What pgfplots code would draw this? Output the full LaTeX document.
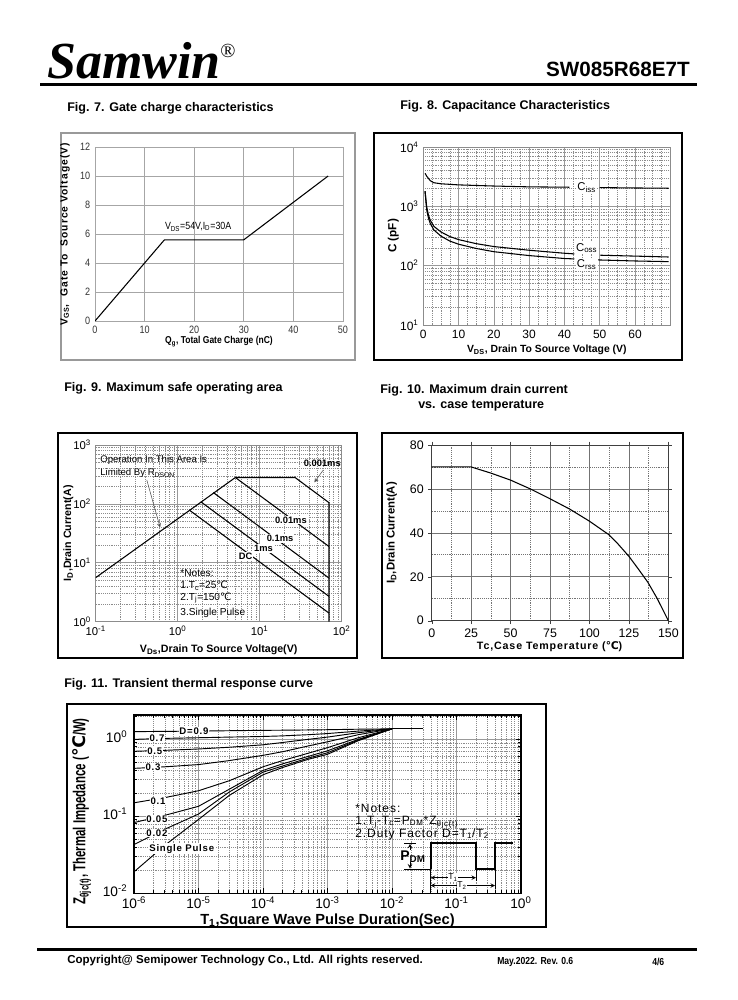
\documentclass[border=0pt]{standalone}
\usepackage{fontspec}
\setmainfont{Liberation Sans}
\newfontfamily\logo{Liberation Serif}
\newfontfamily\narrow[FakeStretch=0.85]{Liberation Sans}
\newfontfamily\condensed[FakeStretch=0.66]{Liberation Sans}
\newfontfamily\spaced[LetterSpace=8]{Liberation Sans}
\newfontfamily\wide[LetterSpace=10]{Liberation Sans}
\newfontfamily\dv{DejaVu Sans}
\usepackage{pgfplots}
\pgfplotsset{compat=1.18}
\newcommand\fs[1]{\fontsize{#1}{#1}\selectfont}
\newcommand\degC{{\dv ℃}}
\newcommand\sups[1]{\textsuperscript{#1}}
\newcommand\subs[1]{\textsubscript{#1}}

\pgfplotsset{
  sheet/.style={scale only axis, anchor=south west,
    /pgf/number format/assume math mode=true,
    xlabel style={anchor=center}, ylabel style={anchor=center}},
  decades/.style={
    minor grid style={black!45, densely dotted, line width=0.4pt},
    major grid style={black!40, line width=0.5pt}},
}

\begin{document}
\begin{tikzpicture}
\path[use as bounding box, fill=white] (0,0) rectangle (553.5pt,-750pt);

% ---------------- page furniture
\begin{scope}[x=0.75pt, y=-0.75pt]
\node[anchor=base west, inner sep=0, font=\logo\bfseries\itshape\fs{39pt}] at (47,78) {Samwin};
\node[anchor=base west, inner sep=0, font=\logo\fs{15pt}] at (220,57) {®};
\node[anchor=base east, inner sep=0, font=\bfseries\fs{15.5pt}] at (690,76) {SW085R68E7T};
\draw[line width=2.25pt] (40,84.5) -- (697,84.5);

\node[anchor=west, inner sep=0, font=\bfseries\fs{9.4pt}] at (67,108) {Fig. 7. Gate charge characteristics};
\node[anchor=west, inner sep=0, font=\bfseries\fs{9.4pt}] at (400,106) {Fig. 8. Capacitance Characteristics};
\node[anchor=west, inner sep=0, font=\bfseries\fs{9.4pt}] at (64,388) {Fig. 9. Maximum safe operating area};
\node[anchor=west, inner sep=0, font=\bfseries\fs{9.4pt}] at (380,390) {Fig. 10. Maximum drain current};
\node[anchor=west, inner sep=0, font=\bfseries\fs{9.4pt}] at (418,406) {vs. case temperature};
\node[anchor=west, inner sep=0, font=\bfseries\fs{9.4pt}] at (64,684) {Fig. 11. Transient thermal response curve};

\draw[black!40, line width=1.2pt] (61,133) rectangle (355,360);
\draw[line width=1pt] (374,133) rectangle (682,360);
\draw[line width=1pt] (58,433) rectangle (357,658);
\draw[line width=1pt] (382,433) rectangle (683,658);
\draw[line width=1.2pt] (67,704) rectangle (546,927);

\draw[line width=2.25pt] (37,949.5) -- (697,949.5);
\node[anchor=west, inner sep=0, font=\bfseries\fs{8.65pt}] at (67,961) {Copyright@ Semipower Technology Co., Ltd. All rights reserved.};
\node[anchor=west, inner sep=0, font=\narrow\bfseries\fs{7.6pt}] at (497,962) {May.2022. Rev. 0.6};
\node[anchor=west, inner sep=0, font=\narrow\bfseries\fs{7.6pt}] at (652,962) {4/6};
\end{scope}

% ---------------- Fig. 7
\begin{axis}[sheet, at={(95*0.75pt,-321*0.75pt)}, width=186pt, height=130.5pt,
  xmin=0, xmax=50, ymin=0, ymax=12,
  xtick={0,10,...,50}, ytick={0,2,...,12},
  grid=major, major grid style={black!35, line width=0.5pt},
  axis line style={black!35}, major tick length=0pt,
  tick label style={font=\narrow\fs{8pt}, text=black!80},
  xlabel={\textbf{Q\subs{g}, Total Gate Charge (nC)}},
  ylabel={\textbf{V\subs{GS},\ \ Gate To\ \ Source Voltage(V)}},
  xlabel style={font=\narrow\fs{7.5pt}, at={(axis description cs:0.5,-0.119)}},
  ylabel style={font=\wide\fs{7.7pt}, at={(axis description cs:-0.121,0.5)}},
]
\addplot[black, line width=0.8pt] coordinates {(0,0) (14,5.6) (30,5.6) (47,10)};
\node[font=\narrow\fs{7.8pt}] at (axis cs:20.8,6.5) {V\subs{DS}=54V,I\subs{D}=30A};
\end{axis}

% ---------------- Fig. 8
\begin{axis}[sheet, decades, at={(423.3*0.75pt,-325*0.75pt)}, width=185.25pt, height=133.5pt,
  ymode=log, xmin=0, xmax=70, ymin=10, ymax=10000,
  xtick={0,10,...,60}, ytick={10,100,1000,10000},
  yticklabels={10\sups{1},10\sups{2},10\sups{3},10\sups{4}},
  minor xtick={2.5,5,7.5,12.5,15,17.5,22.5,25,27.5,32.5,35,37.5,42.5,45,47.5,52.5,55,57.5,62.5,65,67.5},
  minor ytick={20,30,40,50,60,70,80,90,200,300,400,500,600,700,800,900,2000,3000,4000,5000,6000,7000,8000,9000},
  grid=both, axis line style={black!45},
  major tick length=0pt, minor tick length=0pt,
  tick label style={font=\fs{9pt}},
  xlabel={\textbf{V\subs{DS}, Drain To Source Voltage (V)}},
  ylabel={\textbf{C (pF)}},
  xlabel style={font=\fs{7.8pt}, at={(axis description cs:0.5,-0.14)}},
  ylabel style={font=\fs{8.8pt}, at={(axis description cs:-0.121,0.5)}},
]
\addplot[black, line width=0.8pt] coordinates {(0.5,3600) (1,3200) (2,2700) (3,2500) (5,2400) (10,2300) (20,2200) (30,2130) (41.4,2100)};
\addplot[black, line width=0.8pt] coordinates {(50,2070) (60,2040) (69.5,2020)};
\addplot[black, line width=0.8pt] coordinates {(0.5,1800) (0.8,1200) (1,950) (1.5,700) (2,580) (3,460) (5,370) (7.5,310) (10,275) (15,235) (20,210) (30,182) (40,162) (42.8,158)};
\addplot[black, line width=0.8pt] coordinates {(50.2,150) (60,145) (69.5,140)};
\addplot[black, line width=0.8pt] coordinates {(0.5,1800) (0.8,1100) (1,850) (1.5,620) (2,510) (3,400) (5,315) (7.5,260) (10,230) (15,195) (20,172) (30,148) (40,132) (42.8,130)};
\addplot[black, line width=0.8pt] coordinates {(49.5,125) (60,120) (69.5,117)};
\node[fill=white, inner sep=1pt, font=\fs{8.5pt}] at (axis cs:46.3,2060) {C\subs{iss}};
\node[fill=white, inner sep=1pt, font=\fs{8.5pt}] at (axis cs:46.3,198) {C\subs{oss}};
\node[fill=white, inner sep=1pt, font=\fs{8.5pt}] at (axis cs:46.3,104) {C\subs{rss}};
\end{axis}

% ---------------- Fig. 9
\begin{axis}[sheet, decades, at={(95.7*0.75pt,-621.7*0.75pt)}, width=184.5pt, height=132.5pt,
  xmode=log, ymode=log, xmin=0.1, xmax=100, ymin=1, ymax=1000,
  xtick={0.1,1,10,100}, xticklabels={10\sups{-1},10\sups{0},10\sups{1},10\sups{2}},
  ytick={1,10,100,1000}, yticklabels={10\sups{0},10\sups{1},10\sups{2},10\sups{3}},
  minor xtick={0.2,0.3,0.4,0.5,0.6,0.7,0.8,0.9,2,3,4,5,6,7,8,9,20,30,40,50,60,70,80,90},
  minor ytick={2,3,4,5,6,7,8,9,20,30,40,50,60,70,80,90,200,300,400,500,600,700,800,900},
  grid=both, axis line style={black!45},
  major tick length=0pt, minor tick length=0pt,
  tick label style={font=\fs{8.5pt}},
  xlabel={\textbf{V\subs{Ds},Drain To Source Voltage(V)}},
  ylabel={\textbf{I\subs{D},Drain Current(A)}},
  label style={font=\fs{8pt}},
  xlabel style={at={(axis description cs:0.5,-0.16)}},
  ylabel style={at={(axis description cs:-0.111,0.5)}},
]
\addplot[black, line width=0.8pt] coordinates {(0.1,5.6) (5.05,281)};
\addplot[black, line width=0.8pt] coordinates {(5.05,281) (27,281) (70,105) (70,1)};
\addplot[black, line width=0.8pt] coordinates {(5.05,281) (70,18.9)};
\addplot[black, line width=0.8pt] coordinates {(2.72,156) (70,5.5)};
\addplot[black, line width=0.8pt] coordinates {(1.91,109) (70,2.69)};
\addplot[black, line width=0.8pt] coordinates {(1.38,79) (70,1.40)};
\node[anchor=west, inner sep=0, font=\fs{7.2pt}] at (axis cs:0.113,556) {Operation In This Area Is};
\node[anchor=west, inner sep=0, font=\fs{7.2pt}] at (axis cs:0.113,331) {Limited By R\subs{DSON}};
\draw[black!70, -stealth] (axis cs:0.42,255) -- (axis cs:0.61,40);
\node[font=\bfseries\fs{7pt}] at (axis cs:58,489) {0.001ms};
\draw[black!70, -stealth] (axis cs:59.7,377) -- (axis cs:46.4,233);
\node[fill=white, inner sep=0.8pt, font=\bfseries\fs{7pt}] at (axis cs:24,53.6) {0.01ms};
\node[fill=white, inner sep=0.8pt, font=\bfseries\fs{7pt}] at (axis cs:17.7,26) {0.1ms};
\node[fill=white, inner sep=0.8pt, font=\bfseries\fs{7pt}] at (axis cs:11.1,17.7) {1ms};
\node[fill=white, inner sep=0.8pt, font=\bfseries\fs{7pt}] at (axis cs:6.74,12.8) {DC};
\node[anchor=west, inner sep=0, font=\fs{7.6pt}] at (axis cs:1.07,6.6) {*Notes:};
\node[anchor=west, inner sep=0, font=\fs{7.6pt}] at (axis cs:1.07,4.08) {1.T\subs{c}=25\degC};
\node[anchor=west, inner sep=0, font=\fs{7.6pt}] at (axis cs:1.07,2.55) {2.T\subs{j}=150\degC};
\node[anchor=west, inner sep=0, font=\fs{7.6pt}] at (axis cs:1.07,1.42) {3.Single Pulse};
\end{axis}

% ---------------- Fig. 10
\begin{axis}[sheet, at={(431.7*0.75pt,-620.7*0.75pt)}, width=177.5pt, height=131.8pt,
  xmin=0, xmax=150, ymin=0, ymax=80,
  xtick={0,25,...,150}, ytick={0,20,...,80},
  minor x tick num=1, minor y tick num=1,
  grid=both, major grid style={black!55, line width=0.5pt},
  minor grid style={black!55, densely dotted, line width=0.5pt},
  axis line style={black!75}, tick align=outside,
  major tick length=2.5pt, minor tick length=0pt, tick style={black!75},
  tick label style={font=\fs{9.3pt}},
  xlabel={\textbf{Tc,Case Temperature (\degC)}},
  ylabel={\textbf{I\subs{D},Drain Current(A)}},
  xlabel style={font=\spaced\fs{8pt}, at={(axis description cs:0.5,-0.148)}},
  ylabel style={font=\fs{8.5pt}, at={(axis description cs:-0.169,0.5)}},
]
\addplot[black, line width=0.8pt] coordinates {(0,70) (25,70) (37.5,67.2) (50,64) (62.5,60) (75,55.5) (87.5,50.8) (100,45.3) (112,39.3) (118,35) (125,29.3) (131,23.5) (137,17.5) (143,10) (150,0)};
\end{axis}

% ---------------- Fig. 11
\begin{axis}[sheet, decades, at={(134*0.75pt,-893.3*0.75pt)}, width=290.25pt, height=133.7pt,
  xmode=log, ymode=log, xmin=1e-6, xmax=1, ymin=0.01, ymax=2.07,
  xtick={1e-6,1e-5,1e-4,1e-3,1e-2,1e-1,1},
  xticklabels={10\sups{-6},10\sups{-5},10\sups{-4},10\sups{-3},10\sups{-2},10\sups{-1},10\sups{0}},
  ytick={0.01,0.1,1}, yticklabels={10\sups{-2},10\sups{-1},10\sups{0}},
  minor xtick={2e-6,3e-6,4e-6,5e-6,6e-6,7e-6,8e-6,9e-6,2e-5,3e-5,4e-5,5e-5,6e-5,7e-5,8e-5,9e-5,2e-4,3e-4,4e-4,5e-4,6e-4,7e-4,8e-4,9e-4,2e-3,3e-3,4e-3,5e-3,6e-3,7e-3,8e-3,9e-3,0.02,0.03,0.04,0.05,0.06,0.07,0.08,0.09,0.2,0.3,0.4,0.5,0.6,0.7,0.8,0.9},
  minor ytick={0.02,0.03,0.04,0.05,0.06,0.07,0.08,0.09,0.2,0.3,0.4,0.5,0.6,0.7,0.8,0.9,2},
  grid=both, axis line style={black, line width=1pt},
  tick align=inside, major tick length=4pt, minor tick length=2.5pt, tick style={black, line width=0.6pt},
  tick label style={font=\fs{10.3pt}},
  xticklabel style={yshift=1pt},
  yticklabel style={yshift=2pt, xshift=-1.5pt},
  xlabel={\textbf{T\subs{1},Square Wave Pulse Duration(Sec)}},
  ylabel={\textbf{Z\subs{θjc(t)}, Thermal Impedance ({\dv ℃}/W)}},
  xlabel style={font=\fs{11pt}, at={(axis description cs:0.5,-0.155)}},
  ylabel style={font=\condensed\fs{13pt}, at={(axis description cs:-0.135,0.46)}},
]
\pgfplotstableread{
t      d9    d7    d5    d3    d1    d05   d02   sp
1e-6   1.26  1.00  0.70  0.42  0.150 0.083 0.043 0.019
3e-6   1.27  1.03  0.72  0.44  0.175 0.103 0.068 0.042
1e-5   1.28  1.05  0.75  0.47  0.215 0.135 0.107 0.091
3e-5   1.295 1.07  0.79  0.53  0.29  0.225 0.207 0.187
1e-4   1.31  1.09  0.85  0.62  0.44  0.395 0.375 0.347
2e-4   1.315 1.11  0.91  0.69  0.53  0.48  0.45  0.43
5e-4   1.325 1.15  1.00  0.82  0.66  0.60  0.57  0.55
1e-3   1.335 1.19  1.07  0.93  0.78  0.71  0.67  0.64
3e-3   1.355 1.28  1.22  1.15  1.05  1.00  0.98  0.96
1e-2   1.37  1.37  1.37  1.37  1.37  1.37  1.37  1.37
}\zth
\foreach \c in {d9,d7,d5,d3,d1,d05,d02,sp}{
  \addplot[black, line width=0.7pt] table[x=t, y=\c] {\zth};
}
\addplot[black, line width=0.9pt] coordinates {(1e-2,1.37) (3e-2,1.37)};
\tikzset{zl/.style={fill=white, inner sep=0.6pt, font=\spaced\bfseries\fs{7.2pt}}}
\node[zl] at (axis cs:8.5e-6,1.28) {D=0.9};
\node[zl] at (axis cs:2.27e-6,1.04) {0.7};
\node[zl] at (axis cs:2.1e-6,0.705) {0.5};
\node[zl] at (axis cs:1.97e-6,0.437) {0.3};
\node[zl] at (axis cs:2.36e-6,0.158) {0.1};
\node[zl] at (axis cs:2.27e-6,0.092) {0.05};
\node[zl] at (axis cs:2.27e-6,0.061) {0.02};
\node[zl] at (axis cs:5.5e-6,0.038) {Single Pulse};
\end{axis}

% ---------------- Fig. 11 notes and pulse sketch
\begin{scope}[x=0.75pt, y=-0.75pt]
\node[anchor=west, inner sep=0, font=\spaced\fs{9pt}] at (355,808) {*Notes:};
\node[anchor=west, inner sep=0, font=\spaced\fs{9pt}] at (355,822) {1.T\subs{j}-T\subs{c}=P\subs{DM}*Z\subs{θjc(t)}};
\node[anchor=west, inner sep=0, font=\spaced\fs{9pt}] at (355,834) {2.Duty Factor D=T\subs{1}/T\subs{2}};
\draw[line width=1.3pt] (430.7,869) -- (430.7,843.3) -- (476,843.3) -- (476,869) -- (495,869) -- (495,843.3) -- (513.3,843.3);
\draw[line width=0.6pt] (404,843.3) -- (416,843.3);
\draw[line width=0.6pt] (404,869) -- (430.7,869);
\draw[line width=0.5pt, -stealth] (410,850) -- (410,843.8);
\draw[line width=0.5pt, -stealth] (410,862) -- (410,868.5);
\node[font=\bfseries\fs{10.5pt}, inner sep=0] at (413,856.5) {P\subs{DM}};
\draw[line width=0.5pt] (430.7,869) -- (430.7,891.7);
\draw[line width=0.5pt] (476,869) -- (476,881);
\draw[line width=0.5pt] (495,869) -- (495,889);
\draw[line width=0.5pt, stealth-stealth] (430.7,877.7) -- (476,877.7);
\draw[line width=0.5pt, stealth-stealth] (430.7,885.5) -- (495,885.5);
\node[fill=white, inner sep=0.5pt, font=\fs{6.5pt}] at (453,877.7) {T\subs{1}};
\node[fill=white, inner sep=0.5pt, font=\fs{6.5pt}] at (462,885.5) {T\subs{2}};
\end{scope}
\end{tikzpicture}
\end{document}
